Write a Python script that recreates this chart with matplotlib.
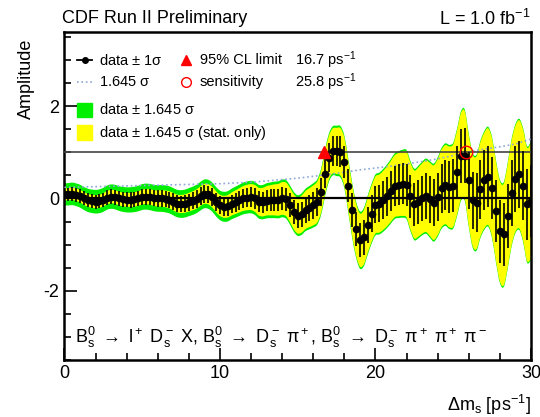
import numpy as np
import matplotlib
matplotlib.use("Agg")
import matplotlib.pyplot as plt
from matplotlib.ticker import MultipleLocator
from matplotlib.patches import Rectangle, PathPatch
from matplotlib.path import Path

plt.rcParams['font.family'] = ['Liberation Sans', 'DejaVu Sans']
plt.rcParams['mathtext.fontset'] = 'custom'
plt.rcParams['mathtext.rm'] = 'Liberation Sans'
plt.rcParams['mathtext.it'] = 'Liberation Sans:italic'
plt.rcParams['mathtext.default'] = 'rm'
plt.rcParams['mathtext.fallback'] = 'stixsans'
plt.rcParams['axes.unicode_minus'] = False

# scan points, dm_s in ps^-1 (step 0.25)
dms = np.arange(121) * 0.25

# measured amplitude
amp = [0.09, 0.09, 0.10, 0.08, 0.05, 0.00, -0.04, -0.06, -0.07, -0.06,
       -0.03, 0.02, 0.04, 0.03, 0.00, -0.02, -0.03, -0.03, -0.02, 0.00,
       0.03, 0.04, 0.03, 0.01, 0.00, 0.00, -0.01, -0.03, -0.07, -0.11,
       -0.12, -0.11, -0.08, -0.05, -0.01, 0.05, 0.10, 0.09, 0.03, -0.07,
       -0.15, -0.18, -0.17, -0.12, -0.08, -0.04, 0.00, 0.02, 0.03, 0.00,
       -0.07, -0.08, -0.05, -0.04, -0.03, -0.03, 0.00, -0.02, -0.14, -0.29,
       -0.37, -0.34, -0.25, -0.20, -0.15, -0.08, 0.14, 0.54, 0.88, 1.03,
       1.03, 1.01, 0.79, 0.28, -0.25, -0.67, -0.90, -0.84, -0.58, -0.33,
       -0.14, -0.11, -0.04, 0.05, 0.16, 0.27, 0.30, 0.32, 0.30, 0.05,
       -0.13, -0.08, 0.00, 0.05, -0.02, -0.09, 0.03, 0.22, 0.30, 0.25,
       0.28, 0.57, 0.92, 0.93, 0.39, -0.04, -0.09, 0.20, 0.39, 0.47,
       0.23, -0.28, -0.71, -0.78, -0.38, 0.12, 0.43, 0.52, 0.28, -0.13,
       -0.05]

# 1.645 sigma (total)
sens = [0.240, 0.242, 0.244, 0.246, 0.248, 0.250, 0.252, 0.254, 0.256,
        0.258, 0.260, 0.262, 0.264, 0.266, 0.268, 0.270, 0.272,
        0.274, 0.276, 0.278, 0.280, 0.282, 0.284, 0.286, 0.288,
        0.290, 0.292, 0.294, 0.296, 0.298, 0.300, 0.302, 0.304,
        0.306, 0.308, 0.310, 0.312, 0.314, 0.316, 0.318, 0.320,
        0.324, 0.328, 0.332, 0.336, 0.340, 0.344, 0.348, 0.352,
        0.358, 0.365, 0.372, 0.380, 0.387, 0.395, 0.402, 0.410,
        0.417, 0.425, 0.432, 0.440, 0.450, 0.460, 0.470, 0.480,
        0.490, 0.500, 0.510, 0.520, 0.532, 0.545, 0.557, 0.570,
        0.582, 0.595, 0.607, 0.620, 0.630, 0.640, 0.650, 0.660,
        0.670, 0.680, 0.690, 0.700, 0.712, 0.725, 0.737, 0.750,
        0.762, 0.775, 0.787, 0.800, 0.815, 0.830, 0.845, 0.860,
        0.877, 0.895, 0.912, 0.930, 0.950, 0.970, 0.990, 1.010,
        1.025, 1.040, 1.055, 1.070, 1.082, 1.095, 1.107, 1.120,
        1.135, 1.150, 1.165, 1.180, 1.205, 1.235, 1.260, 1.290]

# 1.645 sigma (stat. only)
stat = [0.130, 0.131, 0.132, 0.134, 0.135, 0.136, 0.137, 0.139, 0.140,
        0.141, 0.142, 0.144, 0.145, 0.146, 0.147, 0.149, 0.150,
        0.152, 0.155, 0.157, 0.160, 0.163, 0.167, 0.170, 0.174,
        0.177, 0.181, 0.184, 0.188, 0.191, 0.195, 0.198, 0.202,
        0.205, 0.209, 0.212, 0.216, 0.219, 0.223, 0.226, 0.230,
        0.237, 0.243, 0.250, 0.256, 0.263, 0.269, 0.276, 0.282,
        0.291, 0.300, 0.309, 0.318, 0.327, 0.336, 0.345, 0.354,
        0.363, 0.372, 0.381, 0.390, 0.401, 0.411, 0.422, 0.432,
        0.443, 0.453, 0.464, 0.474, 0.487, 0.500, 0.513, 0.526,
        0.539, 0.552, 0.565, 0.578, 0.589, 0.599, 0.610, 0.620,
        0.630, 0.640, 0.651, 0.661, 0.673, 0.686, 0.699, 0.712,
        0.724, 0.737, 0.750, 0.763, 0.778, 0.793, 0.809, 0.824,
        0.841, 0.859, 0.877, 0.895, 0.915, 0.935, 0.956, 0.976,
        0.991, 1.006, 1.022, 1.037, 1.049, 1.062, 1.075, 1.088,
        1.103, 1.118, 1.134, 1.149, 1.174, 1.204, 1.230, 1.260]

limit95 = 16.7
sensitivity = 25.8

amp = np.array(amp)
sens = np.array(sens)
stat = np.array(stat)


def smooth_segments(x, y):
    """Bezier control points of a Catmull-Rom curve through (x, y)"""
    p = np.column_stack([x, y])
    pp = np.vstack([p[0], p, p[-1]])
    verts = []
    for i in range(len(p) - 1):
        p0, p1, p2, p3 = pp[i], pp[i + 1], pp[i + 2], pp[i + 3]
        verts += [p1 + (p2 - p0) / 6.0, p2 - (p3 - p1) / 6.0, p2]
    return p[0], verts


def band(ax, x, lo, hi, color, z):
    start, up = smooth_segments(x, hi)
    start2, down = smooth_segments(x[::-1], lo[::-1])
    verts = [start] + up + [start2] + down + [start]
    codes = ([Path.MOVETO] + [Path.CURVE4] * len(up) + [Path.LINETO]
             + [Path.CURVE4] * len(down) + [Path.CLOSEPOLY])
    ax.add_patch(PathPatch(Path(verts, codes), facecolor=color, lw=0,
                           zorder=z))


fig = plt.figure(figsize=(5.4, 4.17), dpi=100)
ax = fig.add_axes([0.1194, 0.1367, 0.8639, 0.7858])

green = '#00ee00'
yellow = '#ffff00'
band(ax, dms, amp - sens, amp + sens, green, 1)
band(ax, dms, amp - stat, amp + stat, yellow, 2)
ax.plot(dms, sens, ls=':', color='#8ea6d6', lw=1.2, zorder=3)
ax.axhline(0, color='k', lw=1.6, zorder=3)
ax.axhline(1, color='#444444', lw=1.2, zorder=3)
ax.errorbar(dms, amp, yerr=sens / 1.645, fmt='o', ms=4.5, color='k',
            elinewidth=1.2, capsize=0, zorder=4)
ax.plot([limit95], [1.0], marker='^', ms=8, color='red', ls='none', zorder=5)
ax.plot([sensitivity], [1.0], marker='o', ms=9, mfc='none', mec='red',
        mew=1.0, ls='none', zorder=5)

ax.set_xlim(0, 30)
ax.set_ylim(-3.5, 3.6)
ax.xaxis.set_major_locator(MultipleLocator(10))
ax.xaxis.set_minor_locator(MultipleLocator(2))
ax.yaxis.set_major_locator(MultipleLocator(2))
ax.yaxis.set_minor_locator(MultipleLocator(0.5))
ax.tick_params(which='both', direction='in', labelsize=13, width=1.2)
ax.tick_params(which='major', length=9)
ax.tick_params(which='minor', length=5)
for s in ax.spines.values():
    s.set_linewidth(1.8)

ax.set_xlabel(r'$\Delta m_s$ [ps$^{-1}$]', fontsize=13, ha='right', x=1.0,
              labelpad=8)
ax.set_ylabel('Amplitude', fontsize=13, ha='right', y=0.98, labelpad=6)

fig.text(0.115, 0.955, 'CDF Run II Preliminary', fontsize=13, va='center')
fig.text(0.983, 0.955, r'L = 1.0 fb$^{-1}$', fontsize=13, va='center',
         ha='right')

# legend
fs = 10.5
tr = ax.transAxes
ax.plot([0.027, 0.059], [0.915, 0.915], color='k', lw=1.3, transform=tr)
ax.plot([0.043], [0.915], 'ko', ms=4, transform=tr)
ax.text(0.074, 0.915, r'data $\pm$ 1$\sigma$', fontsize=fs, va='center',
        transform=tr)
ax.plot([0.027, 0.059], [0.849, 0.849], ls=':', color='#8ea6d6', lw=1.2,
        transform=tr)
ax.text(0.074, 0.849, r'1.645 $\sigma$', fontsize=fs, va='center',
        transform=tr)
ax.plot([0.260], [0.915], marker='^', ms=7, color='red', transform=tr)
ax.text(0.290, 0.915, '95% CL limit', fontsize=fs, va='center', transform=tr)
ax.plot([0.260], [0.849], marker='o', ms=7, mfc='none', mec='red',
        transform=tr)
ax.text(0.290, 0.849, 'sensitivity', fontsize=fs, va='center', transform=tr)
ax.text(0.494, 0.915, r'%.1f ps$^{-1}$' % limit95, fontsize=fs, va='center',
        transform=tr)
ax.text(0.494, 0.849, r'%.1f ps$^{-1}$' % sensitivity, fontsize=fs,
        va='center', transform=tr)
ax.add_patch(Rectangle((0.027, 0.742), 0.032, 0.042, color=green,
                       transform=tr))
ax.text(0.074, 0.763, r'data $\pm$ 1.645 $\sigma$', fontsize=fs, va='center',
        transform=tr)
ax.add_patch(Rectangle((0.027, 0.671), 0.032, 0.046, color=yellow,
                       transform=tr))
ax.text(0.074, 0.694, r'data $\pm$ 1.645 $\sigma$ (stat. only)', fontsize=fs,
        va='center', transform=tr)

arrow = r' $\rightarrow$ '
ax.text(0.022, 0.07,
        'B$_s^0$' + arrow + 'l$^+$ D$_s^-$ X, B$_s^0$' + arrow
        + 'D$_s^-$ \u03c0$^+$, B$_s^0$' + arrow
        + 'D$_s^-$ \u03c0$^+$ \u03c0$^+$ \u03c0$^-$',
        fontsize=13, va='center', transform=tr)

fig.savefig('out.png', dpi=100)
